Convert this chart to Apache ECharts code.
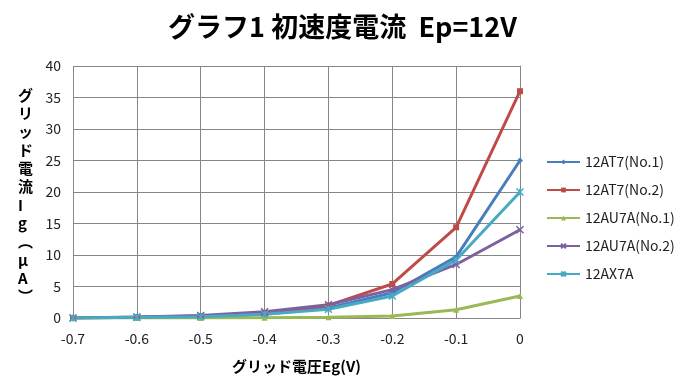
<!DOCTYPE html>
<html><head><meta charset="utf-8">
<script src="https://cdn.jsdelivr.net/npm/echarts@6/dist/echarts.min.js"></script>
<style>html,body{margin:0;padding:0;background:#fff}#c{width:685px;height:388px}</style>
</head><body><div id="c"></div>
<script>
const titleText = 'グラフ1 初速度電流  Ep=12V';
const xAxisName = 'グリッド電圧Eg(V)';
const yAxisChars = ['グ','リ','ッ','ド','電','流','I','g','︵','μ','A','︶'];
const egValues = [-0.7, -0.6, -0.5, -0.4, -0.3, -0.2, -0.1, 0];
const seriesNames = ['12AT7(No.1)', '12AT7(No.2)', '12AU7A(No.1)', '12AU7A(No.2)', '12AX7A'];
const at7No1 = [0, 0.1, 0.2, 0.6, 1.6, 4.0, 9.7, 25];
const at7No2 = [0, 0.1, 0.3, 0.8, 2.0, 5.4, 14.4, 36];
const au7aNo1 = [0, 0, 0, 0.05, 0.1, 0.3, 1.3, 3.5];
const au7aNo2 = [0, 0.15, 0.4, 1.0, 2.1, 4.5, 8.5, 14];
const ax7a = [0, 0.1, 0.2, 0.6, 1.4, 3.5, 9.2, 20];

const values = [at7No1, at7No2, au7aNo1, au7aNo2, ax7a];
const colors = ['#4A7EBB', '#BE4B48', '#98B954', '#7D60A0', '#46AAC5'];
const symbols = ['diamond', 'rect', 'triangle', 'path://M0,0L10,10M10,0L0,10', 'path://M0,0L10,10M10,0L0,10M5,0L5,10'];
const sizes = [6, 6, 6, 7, 7];

const chart = echarts.init(document.getElementById('c'));
const FONT = '"Noto Sans CJK JP", "Noto Sans", sans-serif';
chart.setOption({
  animation: false,
  title: {
    text: titleText, left: 'center', top: 8,
    textStyle: {fontFamily: FONT, fontSize: 27, fontWeight: 'bold', color: '#000'}
  },
  grid: {left: 73, right: 165, top: 66, bottom: 70},
  legend: {
    orient: 'vertical', left: 546, top: 155, itemGap: 14, itemWidth: 33, itemHeight: 6, padding: 0,
    textStyle: {fontFamily: FONT, fontSize: 14, color: '#222'},
    data: seriesNames
  },
  xAxis: {
    type: 'value', min: -0.7, max: 0, interval: 0.1,
    name: xAxisName, nameLocation: 'middle', nameGap: 41,
    nameTextStyle: {fontFamily: FONT, fontSize: 15, fontWeight: 'bold', color: '#000'},
    axisLine: {lineStyle: {color: '#868686'}},
    axisTick: {show: false},
    splitLine: {lineStyle: {color: '#868686', width: 1}},
    axisLabel: {fontFamily: FONT, fontSize: 14, color: '#222', margin: 14,
      formatter: v => (Math.abs(v) < 1e-9 ? '0' : v.toFixed(1))}
  },
  yAxis: {
    type: 'value', min: 0, max: 40, interval: 5,
    axisLine: {show: true, lineStyle: {color: '#868686'}},
    axisTick: {show: false},
    splitLine: {lineStyle: {color: '#868686', width: 1}},
    axisLabel: {fontFamily: FONT, fontSize: 14, color: '#222', margin: 12}
  },
  graphic: [{
    type: 'text', left: 18, top: 86,
    style: {text: yAxisChars.join('\n'), fontFamily: FONT, fontSize: 15, fontWeight: 'bold',
      lineHeight: 18.3, fill: '#000', align: 'center'}
  }],
  series: seriesNames.map((n, i) => ({
    name: n, type: 'line',
    data: egValues.map((x, j) => [x, values[i][j]]),
    symbol: symbols[i], symbolSize: sizes[i], showSymbol: true,
    lineStyle: {width: 3, color: colors[i]},
    itemStyle: {color: colors[i], borderColor: colors[i], borderWidth: i >= 3 ? 1.5 : 0}
  }))
});
</script></body></html>
